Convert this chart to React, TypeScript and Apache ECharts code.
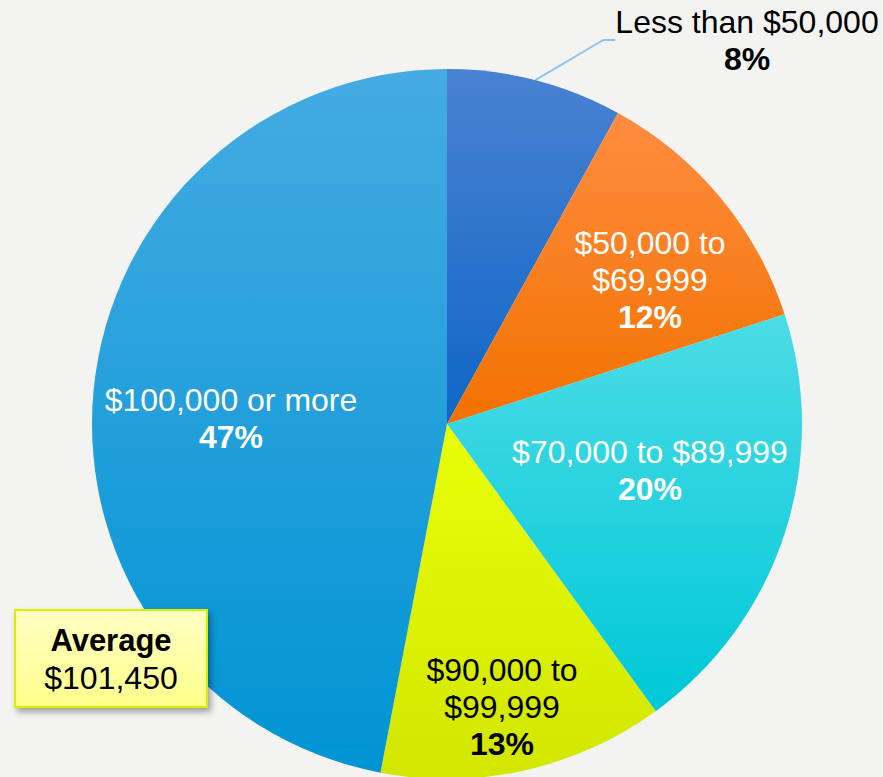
import React, { useEffect, useRef } from "react";
import * as echarts from "echarts";

// ---- data ----
const categories = [
  "Less than $50,000",
  "$50,000 to\n$69,999",
  "$70,000 to $89,999",
  "$90,000 to\n$99,999",
  "$100,000 or more",
];
const shares = [8, 12, 20, 13, 47];
const averageLabel = "Average";
const averageValue = "$101,450";

// ---- styling ----
const gradients: [string, string][] = [
  ["#4a82d2", "#0f66c6"],
  ["#ff8d40", "#f27200"],
  ["#4cdce5", "#00c8d8"],
  ["#e8ff08", "#d2e600"],
  ["#45abe2", "#0094d4"],
];
const labelColors = ["#000000", "#ffffff", "#ffffff", "#000000", "#ffffff"];
// label anchor positions (layout)
const labelPos: ([number, number] | null)[] = [
  [747, 40],
  [650, 280],
  [650, 470],
  [502, 707],
  [231, 418],
];

export default function App() {
  const ref = useRef<HTMLDivElement>(null);
  useEffect(() => {
    if (!ref.current) return;
    const chart = echarts.init(ref.current, null, { renderer: "svg" });
    const font = "'Liberation Sans', Arial, sans-serif";
    const FS = 32;
    const LH = 37;
    const data = categories.map((name, i) => ({
      name,
      value: shares[i],
      itemStyle: {
        color: new echarts.graphic.LinearGradient(0, 0, 0, 1, [
          { offset: 0, color: gradients[i][0] },
          { offset: 1, color: gradients[i][1] },
        ]),
      },
      label: {
        position: i === 0 ? "outside" : "inside",
        color: labelColors[i],
        rich: {
          n: { fontSize: FS, lineHeight: LH, color: labelColors[i], fontFamily: font, align: "center" },
          p: { fontSize: FS, lineHeight: LH, fontWeight: "bold", color: labelColors[i], fontFamily: font, align: "center" },
        },
      },
      labelLine: {
        show: i === 0,
        length: 60,
        length2: 12,
        lineStyle: { color: "#8cc6ee", width: 2 },
      },
    }));
    chart.setOption({
      animation: false,
      backgroundColor: "#f3f3f2",
      series: [
        {
          type: "pie",
          center: [447, 424],
          radius: 355,
          startAngle: 90,
          clockwise: true,
          avoidLabelOverlap: false,
          data,
          label: {
            show: true,
            fontFamily: font,
            fontSize: FS,
            lineHeight: LH,
            formatter: (p: any) => {
              const lines = String(p.name).split("\n").map((l) => `{n|${l}}`);
              return lines.join("\n") + `\n{p|${p.value}%}`;
            },
          },
          labelLayout: (params: any) => {
            const pos = labelPos[params.dataIndex];
            if (!pos) return {};
            return { x: pos[0], y: pos[1], align: "center", verticalAlign: "middle" };
          },
        },
      ],
      graphic: [
        {
          type: "rect",
          z: 100,
          shape: { x: 15, y: 610, width: 192, height: 97 },
          style: {
            fill: new echarts.graphic.LinearGradient(0, 0, 0, 1, [
              { offset: 0, color: "#ffffc4" },
              { offset: 1, color: "#ffff8c" },
            ]),
            stroke: "#d6f000",
            lineWidth: 2,
            shadowBlur: 6,
            shadowOffsetX: 3,
            shadowOffsetY: 4,
            shadowColor: "rgba(0,0,0,0.35)",
          },
        },
        {
          type: "text",
          z: 101,
          x: 111,
          y: 659,
          style: {
            text: `{b|${averageLabel}}\n{n|${averageValue}}`,
            align: "center",
            verticalAlign: "middle",
            textAlign: "center",
            textVerticalAlign: "middle",
            rich: {
              b: { fontSize: 31, lineHeight: 37, fontWeight: "bold", fill: "#000", fontFamily: font, align: "center" },
              n: { fontSize: FS, lineHeight: 37, fill: "#000", fontFamily: font, align: "center" },
            },
          },
        },
      ],
    });
    return () => chart.dispose();
  }, []);
  return (
    <div
      ref={ref}
      style={{ position: "absolute", left: 0, top: 0, width: 883, height: 777 }}
    />
  );
}
